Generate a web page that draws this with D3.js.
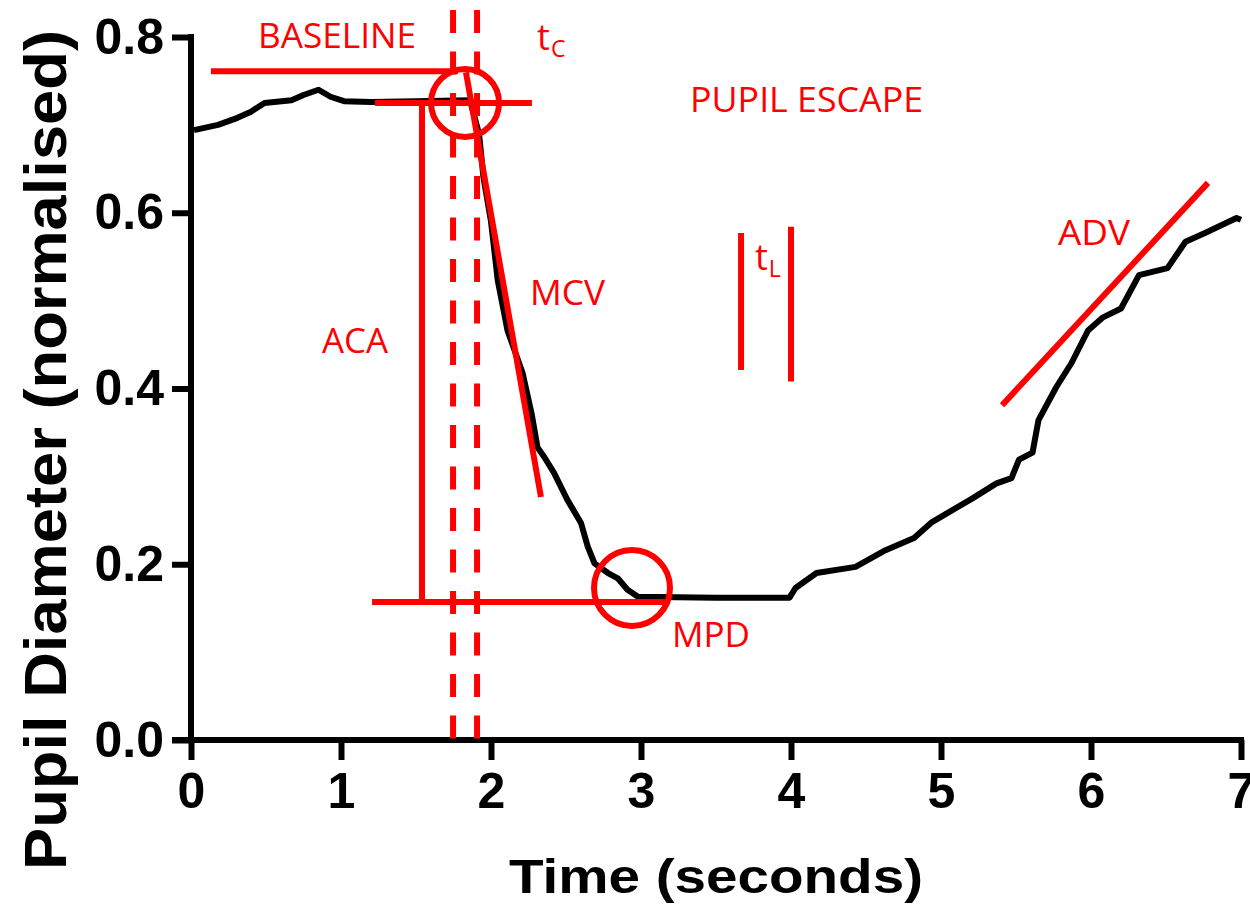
<!DOCTYPE html>
<html>
<head>
<meta charset="utf-8">
<script src="https://cdn.jsdelivr.net/npm/d3@7/dist/d3.min.js"></script>
<style>
  html, body { margin: 0; padding: 0; background: #fff; }
  svg { display: block; }
</style>
</head>
<body>
<svg id="root" width="1250" height="917" xmlns="http://www.w3.org/2000/svg"></svg>
<script>
// pupil trace (time in s, normalised diameter)
var timeS = [0.02, 0.18, 0.31, 0.40, 0.49, 0.67, 0.75, 0.85, 0.93, 1.02, 1.20, 1.50, 1.86,
  1.92, 1.95, 2.00, 2.045, 2.11, 2.21, 2.27, 2.31, 2.355, 2.42, 2.51, 2.60, 2.645, 2.69,
  2.78, 2.845, 2.91, 2.98, 3.50, 3.99, 4.03, 4.17, 4.43, 4.63, 4.82, 4.94, 5.21, 5.37,
  5.47, 5.52, 5.61, 5.65, 5.77, 5.87, 5.98, 6.08, 6.20, 6.32, 6.51, 6.63, 6.76, 6.97, 7.0];
var diam = [0.694, 0.700, 0.708, 0.715, 0.725, 0.728, 0.734, 0.740, 0.732, 0.727, 0.726, 0.727, 0.728,
  0.690, 0.640, 0.590, 0.523, 0.466, 0.418, 0.372, 0.333, 0.322, 0.304, 0.273, 0.247, 0.220, 0.201,
  0.190, 0.184, 0.171, 0.163, 0.162, 0.162, 0.173, 0.190, 0.197, 0.216, 0.230, 0.248, 0.275, 0.292,
  0.298, 0.319, 0.327, 0.364, 0.402, 0.429, 0.466, 0.481, 0.491, 0.529, 0.537, 0.567, 0.577, 0.594, 0.592];

var xTicks = [0, 1, 2, 3, 4, 5, 6, 7];
var xMinorTicks = d3.range(0, 7.001, 0.25);
var yTicks = [0, 0.2, 0.4, 0.6, 0.8];

// annotation segments in data units: [t1, v1, t2, v2]
var solidSegs = [
  [0.133, 0.761, 1.78, 0.761],   // baseline (upper)
  [1.227, 0.725, 2.273, 0.725],  // baseline level
  [1.54, 0.725, 1.54, 0.157],    // ACA
  [1.207, 0.157, 3.16, 0.157],   // MPD level
  [1.833, 0.760, 2.333, 0.2765], // MCV slope
  [3.667, 0.577, 3.667, 0.421],  // tL start
  [4.0, 0.584, 4.0, 0.408],      // tL end
  [5.407, 0.381, 6.78, 0.634]    // ADV slope
];
var dashedT = [1.747, 1.907];
var circles = [[1.827, 0.725, 34], [2.94, 0.173, 38]];
var labels = [
  ["BASELINE", 0.447, 0.7875, 158],
  ["PUPIL ESCAPE", 3.327, 0.7147, 233],
  ["MCV", 2.26, 0.495, 75],
  ["ACA", 0.873, 0.4404, 66],
  ["MPD", 3.207, 0.1058, 78],
  ["ADV", 5.78, 0.5633, 72]
];
var subLabels = [["t", "C", 2.307, 0.785], ["t", "L", 3.76, 0.535]];

var RED = '#ff0000';
var svg = d3.select('#root');
var x = d3.scaleLinear().domain([0, 7]).range([191, 1241]);
var y = d3.scaleLinear().domain([0, 0.8]).range([740, 37]);

// axes
var gx = svg.append('g').attr('transform', 'translate(0,740)');
gx.call(d3.axisBottom(x).tickValues(xMinorTicks).tickSize(12).tickSizeOuter(0).tickFormat(''));
gx.call(d3.axisBottom(x).tickValues(xTicks).tickSize(20).tickSizeOuter(0).tickPadding(10)
  .tickFormat(d3.format('d')));
gx.selectAll('.domain').remove();
gx.append('line').attr('x1', 172).attr('x2', 1244).attr('stroke', '#000').attr('stroke-width', 6);
gx.selectAll('.tick line').attr('stroke', '#000').attr('stroke-width', 6);
gx.selectAll('.tick text')
  .attr('fill', '#000')
  .style('font-family', '"Liberation Sans", Arial, sans-serif')
  .style('font-weight', 'bold')
  .style('font-size', '50px')
  .attr('dy', '0.76em');

var gy = svg.append('g').attr('transform', 'translate(191,0)');
gy.call(d3.axisLeft(y).tickValues(yTicks).tickSize(19).tickSizeOuter(0)
  .tickPadding(8).tickFormat(d3.format('.1f')));
gy.selectAll('.domain').remove();
gy.append('line').attr('y1', 34).attr('y2', 743).attr('stroke', '#000').attr('stroke-width', 6);
gy.selectAll('.tick line').attr('stroke', '#000').attr('stroke-width', 6);
gy.selectAll('.tick text')
  .attr('fill', '#000')
  .style('font-family', '"Liberation Sans", Arial, sans-serif')
  .style('font-weight', 'bold')
  .style('font-size', '50px');

// axis titles
svg.append('text')
  .attr('x', 509).attr('y', 893)
  .attr('textLength', 414).attr('lengthAdjust', 'spacingAndGlyphs')
  .style('font-family', '"Liberation Sans", Arial, sans-serif')
  .style('font-weight', 'bold').style('font-size', '48px')
  .text('Time (seconds)');
svg.append('text')
  .attr('transform', 'translate(66,870) rotate(-90)')
  .attr('textLength', 840).attr('lengthAdjust', 'spacingAndGlyphs')
  .style('font-family', '"Liberation Sans", Arial, sans-serif')
  .style('font-weight', 'bold').style('font-size', '60px')
  .text('Pupil Diameter (normalised)');

// trace
var line = d3.line().x(function(d) { return x(d[0]); }).y(function(d) { return y(d[1]); });
svg.append('path')
  .datum(d3.zip(timeS, diam))
  .attr('d', line)
  .attr('fill', 'none')
  .attr('stroke', '#000')
  .attr('stroke-width', 6)
  .attr('stroke-linejoin', 'round');

// annotations
var ann = svg.append('g');
ann.selectAll('line.dash').data(dashedT).enter().append('line')
  .attr('class', 'dash')
  .attr('x1', function(d) { return x(d); }).attr('x2', function(d) { return x(d); })
  .attr('y1', 10).attr('y2', y(0))
  .attr('stroke', RED).attr('stroke-width', 6).attr('stroke-dasharray', '23,18.5');
ann.selectAll('line.seg').data(solidSegs).enter().append('line')
  .attr('class', 'seg')
  .attr('x1', function(d) { return x(d[0]); }).attr('y1', function(d) { return y(d[1]); })
  .attr('x2', function(d) { return x(d[2]); }).attr('y2', function(d) { return y(d[3]); })
  .attr('stroke', RED).attr('stroke-width', 6);
ann.selectAll('circle').data(circles).enter().append('circle')
  .attr('cx', function(d) { return x(d[0]); }).attr('cy', function(d) { return y(d[1]); })
  .attr('r', function(d) { return d[2]; })
  .attr('fill', 'none').attr('stroke', RED).attr('stroke-width', 6);

var labelFont = '"Open Sans", "Noto Sans", sans-serif';
ann.selectAll('text.lab').data(labels).enter().append('text')
  .attr('class', 'lab')
  .attr('x', function(d) { return x(d[1]); }).attr('y', function(d) { return y(d[2]); })
  .attr('textLength', function(d) { return d[3]; }).attr('lengthAdjust', 'spacingAndGlyphs')
  .attr('fill', RED)
  .style('font-family', labelFont).style('font-size', '35px')
  .text(function(d) { return d[0]; });

var sub = ann.selectAll('text.sub').data(subLabels).enter().append('text')
  .attr('class', 'sub')
  .attr('x', function(d) { return x(d[2]); }).attr('y', function(d) { return y(d[3]); })
  .attr('fill', RED)
  .style('font-family', labelFont).style('font-size', '36px');
sub.append('tspan').text(function(d) { return d[0]; });
sub.append('tspan').attr('dy', 7).attr('dx', 1).style('font-size', '23px')
  .text(function(d) { return d[1]; });
</script>
</body>
</html>
